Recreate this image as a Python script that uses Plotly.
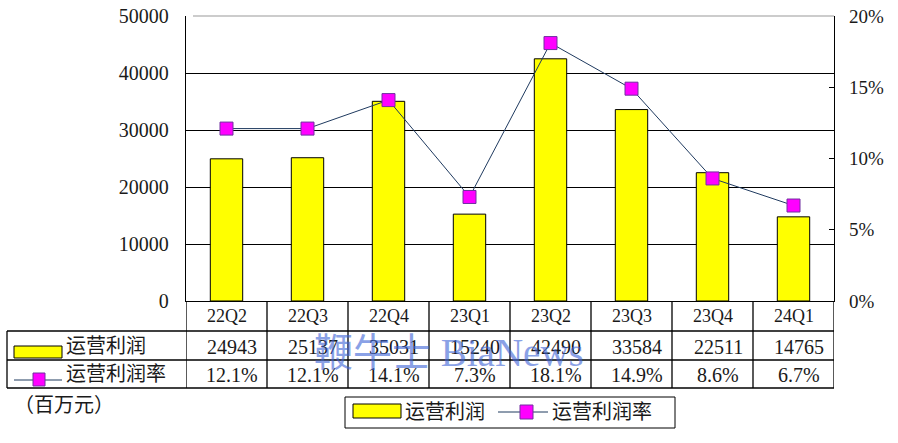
import plotly.graph_objects as go

W, H = 898, 443

categories = ["22Q2", "22Q3", "22Q4", "23Q1", "23Q2", "23Q3", "23Q4", "24Q1"]
op_profit = [24943, 25137, 35031, 15240, 42490, 33584, 22511, 14765]
op_margin = [12.1, 12.1, 14.1, 7.3, 18.1, 14.9, 8.6, 6.7]
bar_name = "运营利润"
line_name = "运营利润率"
unit_label = "（百万元）"
watermark = "鞭牛士 BiaNews"

FONT = "Liberation Serif, Noto Sans CJK SC, serif"
TXT = "#1a1a1a"


def px(x):
    return x / W


def py(y):
    return 1 - y / H


X0, X1 = 186, 834
Y_TOP, Y_BOT = 16, 301

fig = go.Figure()
fig.add_trace(go.Bar(
    x=categories, y=op_profit, name=bar_name, width=0.4,
    marker=dict(color="#FFFF00", line=dict(color="black", width=1)),
    yaxis="y", showlegend=False,
))
fig.add_trace(go.Scatter(
    x=categories, y=[v / 100 for v in op_margin], name=line_name,
    mode="lines+markers", yaxis="y2", showlegend=False,
    line=dict(color="#1F3A5F", width=1),
    marker=dict(symbol="square", size=13, color="#FF00FF",
                line=dict(color="#7030A0", width=1)),
))

shapes = []
ann = []


def text(x, y, s, xref="paper", xanchor="center", size=19, color=TXT, **kw):
    ann.append(dict(x=x, y=y, xref=xref, yref="paper", text=s,
                    xanchor=xanchor, yanchor="middle", showarrow=False,
                    font=dict(size=size, color=color, family=FONT), **kw))


# top border (gray)
shapes.append(dict(type="line", xref="paper", yref="paper",
                   x0=px(X0 + 7), x1=px(X1), y0=py(Y_TOP), y1=py(Y_TOP),
                   line=dict(color="#999999", width=1), layer="above"))

# table lines
n = len(categories)
for k in range(n + 1):
    shapes.append(dict(type="line", xref="x", yref="paper",
                       x0=k - 0.5, x1=k - 0.5, y0=py(Y_BOT), y1=py(388),
                       line=dict(color="black", width=1.3)))
for yy in (331, 360, 388):
    shapes.append(dict(type="line", xref="paper", yref="paper",
                       x0=px(7), x1=px(X1), y0=py(yy), y1=py(yy),
                       line=dict(color="black", width=1.3)))
shapes.append(dict(type="line", xref="paper", yref="paper",
                   x0=px(7), x1=px(7), y0=py(331), y1=py(388),
                   line=dict(color="black", width=1.3)))

# table legend keys
shapes.append(dict(type="rect", xref="paper", yref="paper",
                   x0=px(14), x1=px(62), y0=py(346), y1=py(358),
                   fillcolor="#FFFF00", line=dict(color="black", width=1)))
shapes.append(dict(type="line", xref="paper", yref="paper",
                   x0=px(14), x1=px(62), y0=py(380), y1=py(380),
                   line=dict(color="#1F3A5F", width=1)))
shapes.append(dict(type="rect", xref="paper", yref="paper",
                   x0=px(33), x1=px(45), y0=py(373), y1=py(386),
                   fillcolor="#FF00FF", line=dict(color="#7030A0", width=1)))

for i, c in enumerate(categories):
    text(c, py(316), c, xref="x", size=18)
    text(i + 0.07, py(347), str(op_profit[i]), xref="x", size=20)
    text(i + 0.07, py(375), f"{op_margin[i]:.1f}%", xref="x", size=20)

text(px(64), py(346), bar_name, xanchor="left", size=20)
text(px(64), py(374), line_name, xanchor="left", size=20)
text(px(12), py(405), unit_label, xanchor="left", size=20)

# bottom legend box
shapes.append(dict(type="rect", xref="paper", yref="paper",
                   x0=px(345), x1=px(675), y0=py(397), y1=py(428),
                   fillcolor="white", line=dict(color="black", width=1)))
shapes.append(dict(type="rect", xref="paper", yref="paper",
                   x0=px(353), x1=px(401), y0=py(404), y1=py(418),
                   fillcolor="#FFFF00", line=dict(color="black", width=1)))
shapes.append(dict(type="line", xref="paper", yref="paper",
                   x0=px(498), x1=px(548), y0=py(412), y1=py(412),
                   line=dict(color="#1F3A5F", width=1)))
shapes.append(dict(type="rect", xref="paper", yref="paper",
                   x0=px(520), x1=px(533), y0=py(405), y1=py(419),
                   fillcolor="#FF00FF", line=dict(color="#7030A0", width=1)))
text(px(403), py(412), bar_name, xanchor="left", size=20)
text(px(550), py(412), line_name, xanchor="left", size=20)

# watermark
text(px(449), py(352), watermark, size=39, color="#3D64D6", opacity=0.6)

fig.update_layout(
    width=W, height=H,
    margin=dict(l=0, r=0, t=0, b=0, autoexpand=False),
    paper_bgcolor="white", plot_bgcolor="white",
    bargap=0.6,
    xaxis=dict(domain=[px(X0), px(X1)], range=[-0.5, n - 0.5], automargin=False,
               showticklabels=False, showgrid=False, zeroline=False,
               showline=True, linecolor="black", linewidth=1.3, ticks=""),
    yaxis=dict(domain=[py(Y_BOT), py(Y_TOP)], range=[0, 50000], dtick=10000,
               tickformat="d", automargin=False,
               showgrid=True, gridcolor="black", gridwidth=1, zeroline=False,
               showline=True, linecolor="black", linewidth=1.3,
               ticks="inside", ticklen=7, tickcolor="black",
               ticklabelstandoff=12,
               tickfont=dict(size=20, color=TXT, family=FONT)),
    yaxis2=dict(domain=[py(Y_BOT), py(Y_TOP)], range=[0, 0.2], dtick=0.05,
                tickformat=".0%", overlaying="y", side="right", automargin=False,
                showgrid=False, zeroline=False,
                showline=True, linecolor="black", linewidth=1.3,
                ticks="inside", ticklen=5, tickcolor="black",
                ticklabelstandoff=10,
                tickfont=dict(size=19, color=TXT, family=FONT)),
    shapes=shapes, annotations=ann,
)

fig.write_html("out.html")
